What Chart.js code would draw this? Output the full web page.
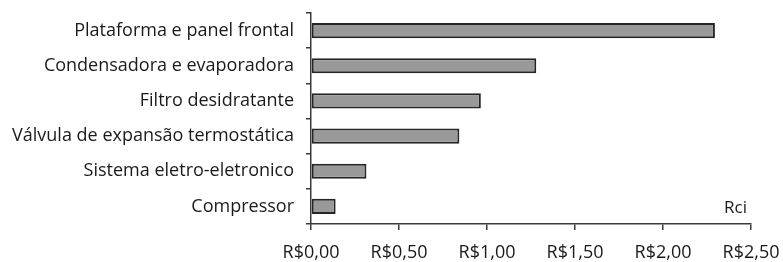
<!DOCTYPE html>
<html>
<head>
<meta charset="utf-8">
<script src="https://cdn.jsdelivr.net/npm/chart.js@4/dist/chart.umd.min.js"></script>
<style>
  html, body { margin: 0; padding: 0; background: #fff; }
  #wrap { width: 783px; height: 262px; position: relative; }
</style>
</head>
<body>
<div id="wrap"><canvas id="chart"></canvas></div>
<script>
// data
const categories = [
  'Plataforma e panel frontal',
  'Condensadora e evaporadora',
  'Filtro desidratante',
  'Válvula de expansão termostática',
  'Sistema eletro-eletronico',
  'Compressor'
];
const costValues = [2.295, 1.28, 0.965, 0.843, 0.315, 0.14];
const xTickValues = [0, 0.5, 1, 1.5, 2, 2.5];
const seriesLabel = 'Rci';

const FONT = "'Open Sans', sans-serif";
const TEXT = '#1a1a1a';
const AXIS = '#3a3a3a';

// small label in the lower right corner of the plot
const cornerLabel = {
  id: 'cornerLabel',
  afterDraw(chart) {
    const { ctx, chartArea } = chart;
    ctx.save();
    ctx.font = '17px ' + FONT;
    ctx.fillStyle = TEXT;
    ctx.textAlign = 'right';
    ctx.textBaseline = 'alphabetic';
    ctx.fillText(seriesLabel, chartArea.right - 4, chartArea.bottom - 11);
    ctx.restore();
  }
};

new Chart(document.getElementById('chart').getContext('2d'), {
  type: 'bar',
  data: {
    labels: categories,
    datasets: [{
      label: seriesLabel,
      data: costValues,
      backgroundColor: '#999999',
      borderColor: '#262626',
      borderWidth: 2,
      borderSkipped: false,
      barPercentage: 0.43,
      categoryPercentage: 1
    }]
  },
  options: {
    indexAxis: 'y',
    responsive: true,
    maintainAspectRatio: false,
    animation: false,
    layout: { padding: { top: 13, right: 32, left: 0, bottom: 0 } },
    plugins: {
      legend: { display: false },
      tooltip: { enabled: false }
    },
    scales: {
      x: {
        min: 0,
        max: 2.5,
        afterBuildTicks(axis) {
          axis.ticks = xTickValues.map(v => ({ value: v }));
        },
        afterFit(axis) {
          axis.height = 38;
          axis.paddingLeft = 0;
          axis.paddingRight = 0;
        },
        border: { color: AXIS, width: 1.5 },
        grid: {
          drawOnChartArea: false,
          drawTicks: true,
          tickLength: 6,
          color: AXIS,
          lineWidth: 1.5
        },
        ticks: {
          color: TEXT,
          font: { family: FONT, size: 18 },
          padding: 12,
          maxRotation: 0,
          callback: v => 'R$' + Number(v).toFixed(2).replace('.', ',')
        }
      },
      y: {
        afterFit(axis) {
          axis.width = 311;
          axis.paddingTop = 0;
          axis.paddingBottom = 0;
        },
        border: { color: AXIS, width: 1.5 },
        grid: {
          drawOnChartArea: false,
          drawTicks: true,
          offset: true,
          tickLength: 5,
          color: AXIS,
          lineWidth: 1.5
        },
        ticks: {
          color: TEXT,
          font: { family: FONT, size: 18 },
          padding: 12
        }
      }
    }
  },
  plugins: [cornerLabel]
});
</script>
</body>
</html>
